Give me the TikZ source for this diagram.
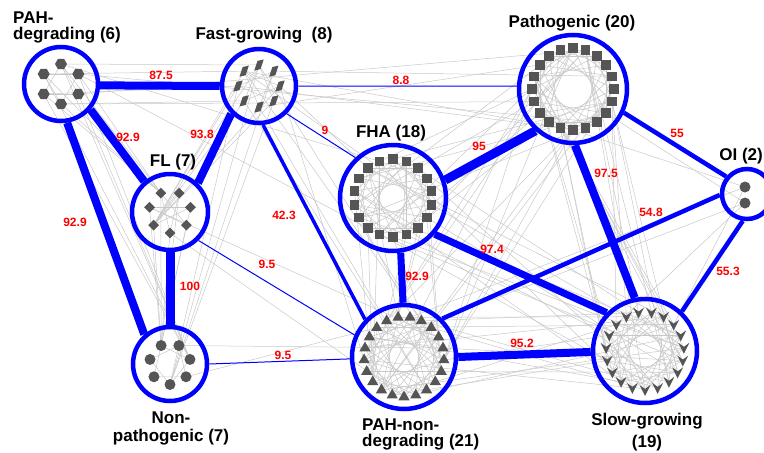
\documentclass[tikz,border=0pt]{standalone}
\usepackage{fontspec}
\setmainfont{Liberation Sans}
\usetikzlibrary{shapes.geometric,positioning}

\definecolor{member}{RGB}{85,85,85}
\definecolor{faintgray}{RGB}{200,200,200}
\pgfdeclarelayer{bg}
\pgfsetlayers{bg,main}

% chords inside one group: member k to member k+#3
\newcommand\chords[3]{%
  \foreach \k in {1,...,#2}{%
    \pgfmathtruncatemacro\kb{mod(\k+#3-1,#2)+1}%
    \draw[faint] (#1-\k.center) -- (#1-\kb.center);}}

% shared members between two groups
\newcommand\crosslinks[6]{%
  \foreach \k in {1,...,#5}{%
    \pgfmathtruncatemacro\ka{mod(\k*5+#6,#2)+1}%
    \pgfmathtruncatemacro\kb{mod(\k*7+2*#6,#4)+1}%
    \draw[faint] (#1-\ka.center) -- (#3-\kb.center);}}

\tikzset{
  grp/.style={circle, draw=blue, line width=4.5pt, inner sep=0pt},
  link/.style={blue, line width=#1},
  wt/.style={text=red, font=\fontsize{12}{12}\selectfont\bfseries, inner sep=0pt},
  grplbl/.style={font=\fontsize{17}{#1}\selectfont\bfseries, inner sep=0pt},
  grplbl/.default=13,
  faint/.style={faintgray, line width=0.5pt},
  mem/.style={fill=member, draw=none, inner sep=0pt},
  hexm/.style={mem, regular polygon, regular polygon sides=6, minimum size=12pt},
  param/.style={mem, rectangle, minimum width=5.5pt, minimum height=10pt, xslant=0.6, rotate=15},
  diam/.style={mem, diamond, minimum size=11pt},
  dotm/.style={mem, circle, minimum size=11pt},
  sqm/.style={mem, rectangle, minimum size=9.5pt},
  trim/.style={mem, regular polygon, regular polygon sides=3, minimum size=13pt},
  chevm/.style={inner sep=0pt, minimum size=9pt},
  chevron/.pic={\fill[member] (-5.5,-5) -- (0,-1) -- (5.5,-5) -- (0,6) -- cycle;}
}

\begin{document}
\begin{tikzpicture}[x=1pt, y=-1pt]
\useasboundingbox (0,0) rectangle (764,453);

% groups
\node[grp, minimum size=74pt] (pahd) at (61,84) {};
\node[grp, minimum size=74pt] (fast) at (259,86) {};
\node[grp, minimum size=76pt] (fl) at (170,212) {};
\node[grp, minimum size=74pt] (nonp) at (170,364) {};
\node[grp, minimum size=106pt] (fha) at (393,198) {};
\node[grp, minimum size=108pt] (path) at (573,89) {};
\node[grp, minimum size=50pt] (oi) at (747,194) {};
\node[grp, minimum size=104pt] (pahn) at (404,357) {};
\node[grp, minimum size=104pt] (slow) at (645,351) {};

% members
\foreach \i in {1,...,6}
  \node[hexm] (pahd-\i) at ([shift={(-90+60*\i:20)}]pahd.center) {};
\foreach \i in {1,...,8}
  \node[param] (fast-\i) at ([shift={(-90+45*\i:21)}]fast.center) {};
\foreach \i in {1,...,7}
  \node[diam] (fl-\i) at ([shift={(90+360/7*\i:21)}]fl.center) {};
\foreach \i in {1,...,7}
  \node[dotm] (nonp-\i) at ([shift={(90+360/7*\i:20.5)}]nonp.center) {};
\foreach \i in {1,...,18}
  \node[sqm] (fha-\i) at ([shift={(-90+20*\i:39)}]fha.center) {};
\foreach \i in {1,...,20}
  \node[sqm] (path-\i) at ([shift={(-90+18*\i:41)}]path.center) {};
\node[dotm] (oi-1) at (745,187) {};
\node[dotm] (oi-2) at (745,203) {};
\foreach \i in {1,...,21}
  \node[trim] (pahn-\i) at ([shift={(90+360/21*\i:40)}]pahn.center) {};
\foreach \i in {1,...,19}{
  \node[chevm] (slow-\i) at ([shift={(90+360/19*\i:39)}]slow.center) {};
  \pic at (slow-\i) {chevron};
}

% member links
\begin{pgfonlayer}{bg}
\chords{pahd}{6}{2}
\chords{fast}{8}{3}
\chords{fl}{7}{3}
\chords{nonp}{7}{2}
\chords{fha}{18}{4} \chords{fha}{18}{7}
\chords{path}{20}{4} \chords{path}{20}{7}
\chords{pahn}{21}{5} \chords{pahn}{21}{8}
\chords{slow}{19}{5} \chords{slow}{19}{7}
\crosslinks{pahd}{6}{fast}{8}{4}{0}
\crosslinks{pahd}{6}{fl}{7}{5}{1}
\crosslinks{pahd}{6}{nonp}{7}{5}{2}
\crosslinks{pahd}{6}{path}{20}{3}{3}
\crosslinks{pahd}{6}{fha}{18}{2}{1}
\crosslinks{fast}{8}{fl}{7}{6}{0}
\crosslinks{fast}{8}{nonp}{7}{4}{3}
\crosslinks{fast}{8}{path}{20}{4}{1}
\crosslinks{fast}{8}{pahn}{21}{5}{2}
\crosslinks{fast}{8}{fha}{18}{2}{4}
\crosslinks{fl}{7}{nonp}{7}{7}{1}
\crosslinks{fl}{7}{pahn}{21}{2}{3}
\crosslinks{nonp}{7}{pahn}{21}{2}{0}
\crosslinks{fha}{18}{path}{20}{10}{2}
\crosslinks{fha}{18}{pahn}{21}{12}{1}
\crosslinks{fha}{18}{slow}{19}{12}{3}
\crosslinks{path}{20}{slow}{19}{15}{0}
\crosslinks{path}{20}{pahn}{21}{10}{4}
\crosslinks{path}{20}{oi}{2}{2}{1}
\crosslinks{pahn}{21}{oi}{2}{2}{0}
\crosslinks{slow}{19}{oi}{2}{2}{1}
\crosslinks{pahn}{21}{slow}{19}{15}{2}
\end{pgfonlayer}

% group links
\draw[link=8pt] (pahd.-2) -- (fast.180);
\draw[link=8pt] (pahd.-41) -- (fl.130);
\draw[link=8pt] (pahd.-81) -- (nonp.131);
\draw[link=8pt] (fast.-135) -- (fl.46);
\draw[link=9pt] (fl.-90) -- (nonp.90);
\draw[link=1pt] (fast.0) -- (path.177);
\draw[link=1pt] (fast.-45) -- (fha.133);
\draw[link=3.5pt] (fast.-84) -- (pahn.136);
\draw[link=1pt] (fl.-45) -- (pahn.156);
\draw[link=1pt] (nonp.0) -- (pahn.182);
\draw[link=9pt] (fha.19) -- (path.228);
\draw[link=7pt] (fha.-82) -- (pahn.91);
\draw[link=7pt] (fha.-41) -- (slow.135);
\draw[link=8pt] (path.-88) -- (slow.101);
\draw[link=4.5pt] (path.-25) -- (oi.140);
\draw[link=4.5pt] (pahn.45) -- (oi.182);
\draw[link=4.5pt] (oi.-99) -- (slow.47);
\draw[link=8pt] (pahn.0) -- (slow.181);

% weights
\node[wt] (w-pahd-fast) at (161,75) {87.5};
\node[wt] (w-pahd-fl) at (128,137) {92.9};
\node[wt] (w-pahd-nonp) at (75,222) {92.9};
\node[wt] (w-fast-fl) at (202,134) {93.8};
\node[wt] (w-fl-nonp) at (190,286) {100};
\node[wt] (w-fast-path) at (401,80) {8.8};
\node[wt] (w-fast-fha) at (325,130) {9};
\node[wt] (w-fast-pahn) at (284,215) {42.3};
\node[wt] (w-fl-pahn) at (267,264) {9.5};
\node[wt] (w-nonp-pahn) at (283,355) {9.5};
\node[wt] (w-fha-path) at (479,146) {95};
\node[wt] (w-fha-pahn) at (417,276) {92.9};
\node[wt] (w-fha-slow) at (492,249) {97.4};
\node[wt] (w-path-slow) at (606,173) {97.5};
\node[wt] (w-path-oi) at (677,133) {55};
\node[wt] (w-pahn-oi) at (651,212) {54.8};
\node[wt] (w-oi-slow) at (728,271) {55.3};
\node[wt] (w-pahn-slow) at (522,343) {95.2};

% group names
\node[grplbl=15.5, anchor=north west, align=left] (pahd-lbl) at (13,12) {PAH-\\degrading (6)};
\node[grplbl, anchor=base] (fast-lbl) at (264,39) {Fast-growing~~(8)};
\node[grplbl, anchor=base] (fl-lbl) at (173,166) {FL (7)};
\node[grplbl=18, anchor=north, align=center] (nonp-lbl) at (171,412) {Non-\\pathogenic (7)};
\node[grplbl, anchor=base] (fha-lbl) at (391,137) {FHA (18)};
\node[grplbl, anchor=base] (path-lbl) at (572,27) {Pathogenic (20)};
\node[grplbl, anchor=base east] (oi-lbl) at (763,160) {OI (2)};
\node[grplbl=15.5, anchor=north west, align=left] (pahn-lbl) at (362,419) {PAH-non-\\degrading (21)};
\node[grplbl=22, anchor=north, align=center] (slow-lbl) at (647,413) {Slow-growing\\(19)};
\end{tikzpicture}
\end{document}
